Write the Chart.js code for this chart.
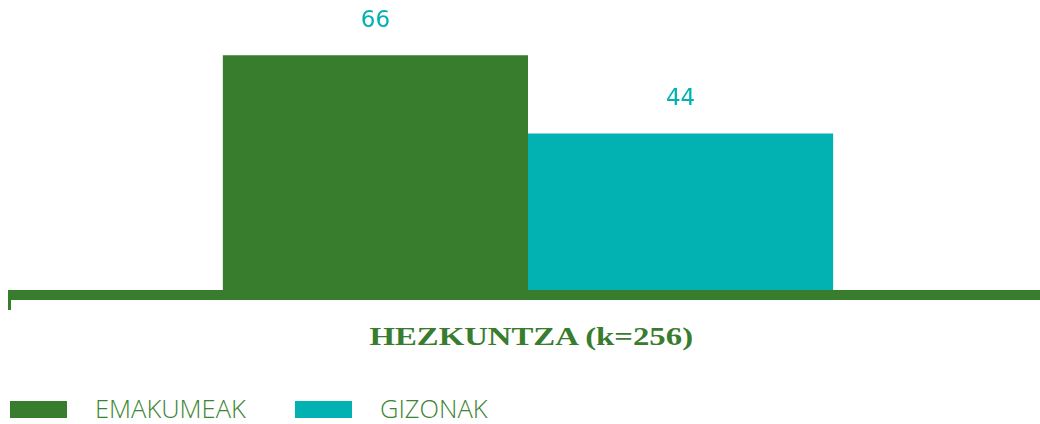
<!DOCTYPE html>
<html>
<head>
<meta charset="utf-8">
<script src="https://cdn.jsdelivr.net/npm/chart.js@4.4.1/dist/chart.umd.min.js"></script>
<style>
  html, body { margin: 0; padding: 0; background: #fff; }
  #wrap { position: relative; width: 1040px; height: 424px; overflow: hidden; }
  #chartBox { position: absolute; left: 0; top: 0; width: 1040px; height: 312px; }
  #title {
    position: absolute; left: 0; top: 322px; width: 1062px; height: 30px;
    text-align: center; line-height: 30px;
    font-family: "Liberation Serif", serif; font-weight: bold; font-size: 26px;
    color: #387c2e; transform: scaleX(1.26); transform-origin: 530px 0;
  }
  #legend { position: absolute; left: 10px; top: 390px; display: flex; }
  .item { width: 285px; display: flex; align-items: flex-start; }
  .box { width: 57px; height: 17px; margin-top: 11px; margin-right: 28px; }
  .lbl {
    font-family: "Open Sans", sans-serif; font-weight: 300; font-size: 25.5px;
    line-height: 36px; color: #3d8534;
  }
</style>
</head>
<body>
<div id="wrap">
  <div id="chartBox"><canvas id="grafico"></canvas></div>
  <div id="title">HEZKUNTZA (k=256)</div>
  <div id="legend"></div>
</div>
<script>
// dados
const categorias = ['HEZKUNTZA (k=256)'];
const emakumeak = [66];
const gizonak = [44];
const seriesNomes = ['EMAKUMEAK', 'GIZONAK'];
const corVerde = '#387c2e';
const corTeal = '#02b1b1';

// linha do eixo (grossa) + pequeno traço à esquerda
const eixoPlugin = {
    id: 'eixo',
    afterDatasetsDraw(chart) {
        const ctx = chart.ctx;
        const y0 = chart.scales.y.getPixelForValue(0);
        ctx.save();
        ctx.fillStyle = corVerde;
        ctx.fillRect(8, y0, chart.width - 8, 10);
        ctx.fillRect(8, y0, 3, 20);
        ctx.restore();
    }
};

// valores acima das barras
const valoresPlugin = {
    id: 'valores',
    afterDatasetsDraw(chart) {
        const ctx = chart.ctx;
        ctx.save();
        ctx.font = '23px "DejaVu Sans", sans-serif';
        ctx.fillStyle = corTeal;
        ctx.textAlign = 'center';
        ctx.textBaseline = 'middle';
        chart.data.datasets.forEach((ds, i) => {
            chart.getDatasetMeta(i).data.forEach((bar, j) => {
                ctx.fillText(ds.data[j], bar.x, bar.y - 34);
            });
        });
        ctx.restore();
    }
};

document.addEventListener('DOMContentLoaded', function() {
    const ctx = document.getElementById('grafico').getContext('2d');

    const chart = new Chart(ctx, {
        type: 'bar',
        data: {
            labels: categorias,
            datasets: [{
                label: seriesNomes[0],
                data: emakumeak,
                backgroundColor: corVerde,
                barPercentage: 1,
                categoryPercentage: 0.596
            }, {
                label: seriesNomes[1],
                data: gizonak,
                backgroundColor: corTeal,
                barPercentage: 1,
                categoryPercentage: 0.596
            }]
        },
        options: {
            responsive: true,
            maintainAspectRatio: false,
            animation: false,
            layout: { padding: { left: 16, right: 0, top: 0, bottom: 22 } },
            scales: {
                x: { display: false },
                y: { display: false, min: 0, max: 81.5 }
            },
            plugins: {
                legend: { display: false },
                tooltip: { enabled: false }
            }
        },
        plugins: [eixoPlugin, valoresPlugin]
    });

    // legenda em HTML a partir dos datasets
    const leg = document.getElementById('legend');
    chart.data.datasets.forEach(ds => {
        const item = document.createElement('div');
        item.className = 'item';
        item.innerHTML = '<div class="box" style="background:' + ds.backgroundColor + '"></div>' +
                         '<div class="lbl">' + ds.label + '</div>';
        leg.appendChild(item);
    });
});
</script>
</body>
</html>
